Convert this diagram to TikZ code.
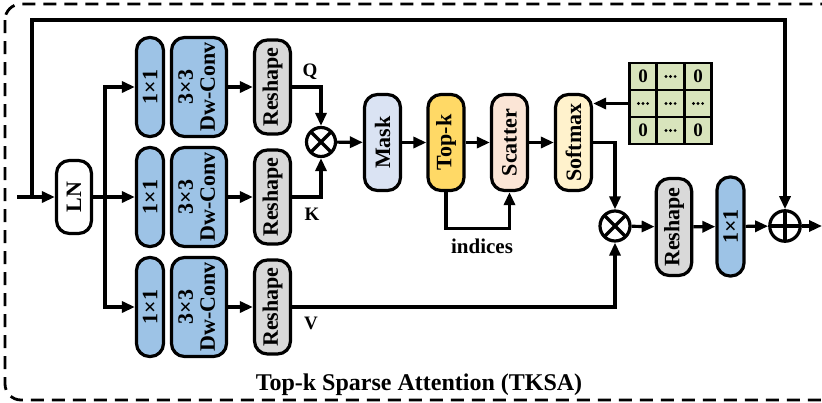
\documentclass[tikz,border=0pt]{standalone}
\usepackage{fontspec}
\setmainfont{Liberation Serif}
\usetikzlibrary{arrows.meta}
\definecolor{convblue}{HTML}{9DC3E6}
\definecolor{shapegray}{HTML}{D9D9D9}
\definecolor{maskblue}{HTML}{DAE3F3}
\definecolor{topkgold}{HTML}{FFD966}
\definecolor{scatterpeach}{HTML}{FBE5D6}
\definecolor{softyellow}{HTML}{FFF2CC}
\definecolor{zerogreen}{HTML}{D8E4BC}
\begin{document}
\begin{tikzpicture}[x=1pt,y=-1pt,
  line width=3.2pt,
  >={Triangle[length=13pt,width=11pt]},
  blk/.style={draw, rounded corners=13pt, inner sep=0pt,
    font=\fontsize{22}{24}\selectfont\bfseries},
  pill/.style={blk, fill=convblue, minimum width=27pt, minimum height=99pt},
  dwconv/.style={blk, fill=convblue, minimum width=55pt, minimum height=99pt},
  reshape/.style={blk, fill=shapegray, minimum width=36pt, minimum height=94pt},
  attn/.style={blk, minimum width=36pt, minimum height=96pt},
  op/.style={draw, circle, inner sep=0pt, minimum size=#1},
  cell/.style={draw, fill=zerogreen, line width=2.8pt, inner sep=0pt,
    minimum width=27.5pt, minimum height=27pt,
    font=\fontsize{19}{19}\selectfont\bfseries},
  lbl/.style={font=\fontsize{19}{19}\selectfont\bfseries},
]
\path[use as bounding box] (0,0) rectangle (822,402);

% outer dashed frame of the block
\begin{scope}
  \clip (0,0) rectangle (822,402);
  \draw[line width=2.8pt, dash pattern=on 13pt off 8pt, rounded corners=16pt]
    (5,4) rectangle (850,400);
\end{scope}

% layer norm
\node[blk, minimum width=35pt, minimum height=73pt] (ln) at (74,197) {\rotatebox{90}{LN}};

% Q, K, V projections
\foreach \r/\y in {q/87, k/197, v/307}{
  \node[pill] (\r1) at (150,\y) {\rotatebox{90}{1×1}};
  \node[dwconv] (\r c) at (199,\y)
    {\rotatebox{90}{\begin{tabular}{@{}c@{}}3×3\\[-2pt]Dw-Conv\end{tabular}}};
  \node[reshape] (\r r) at (272.5,\y) {\rotatebox{90}{Reshape}};
}

% attention path
\node[op=29pt] (m1) at (321,142) {};
\node[attn, fill=maskblue] (mask) at (382.5,142.5) {\rotatebox{90}{Mask}};
\node[attn, fill=topkgold] (topk) at (446,142.5) {\rotatebox{90}{Top-k}};
\node[attn, fill=scatterpeach] (scat) at (509.5,142.5) {\rotatebox{90}{Scatter}};
\node[attn, fill=softyellow] (sm) at (573.5,142.5) {\rotatebox{90}{Softmax}};

% zero matrix
\foreach \i/\y in {1/76.5, 2/103.5, 3/130.5}{
  \foreach \j/\x in {1/643, 2/670.5, 3/698}{
    \node[cell] (c\i\j) at (\x,\y) {};
  }
}
\foreach \c in {c11, c13, c31, c33}{
  \node[cell, fill=none, draw=none] at (\c) {0};
}
\foreach \c in {c12, c21, c22, c23, c32}{
  \foreach \dx in {-4.6, 0, 4.6}{
    \fill ([xshift=\dx pt]\c.center) circle (1.6pt);
  }
}

% output path
\node[op=30pt] (m2) at (615,226) {};
\node[blk, fill=shapegray, minimum width=35.5pt, minimum height=97pt] (rs2) at (674,227) {\rotatebox{90}{Reshape}};
\node[pill] (o1) at (730.5,226.5) {\rotatebox{90}{1×1}};
\node[op=30.5pt] (add) at (785,226) {};

% operator glyphs
\foreach \c/\r in {m1/14.5, m2/15}{
  \draw ([shift={(45:\r)}]\c.center) -- ([shift={(225:\r)}]\c.center);
  \draw ([shift={(135:\r)}]\c.center) -- ([shift={(315:\r)}]\c.center);
}
\draw ([shift={(0,-15.25)}]add.center) -- ([shift={(0,15.25)}]add.center);
\draw ([shift={(-15.25,0)}]add.center) -- ([shift={(15.25,0)}]add.center);

% input, skip connection and branches
\coordinate (in) at (17,197);
\coordinate (sk) at (32,197);
\coordinate (skt) at (32,20);
\coordinate (br) at (105,197);
\coordinate (out) at (822,226);
\draw[->] (in) -- (ln);
\draw[->] (sk) -- (skt) -| (add);
\draw[->] (ln) -- (k1);
\draw[->] (br) |- (q1);
\draw[->] (br) |- (v1);
\foreach \r in {q,k,v}{
  \draw[->] (\r c) -- (\r r);
}
\draw[->] (qr) -| (m1);
\draw[->] (kr) -| (m1);
\draw[->] (vr) -| (m2);

\draw[->] (m1) -- (mask);
\draw[->] (mask) -- (topk);
\draw[->] (topk) -- (scat);
\draw[->] (scat) -- (sm);
\draw[->] (topk.south) -- ++(0,36) -| (scat.south);
\draw[->] (c21.west) -- (c21.west -| sm.east);
\draw[->] (sm) -| (m2);

\draw[->] (m2) -- (rs2);
\draw[->] (rs2) -- (o1);
\draw[->] (o1) -- (add);
\draw[->] (add) -- (out);

% labels
\node[lbl] (lq) at (310,72) {Q};
\node[lbl] (lk) at (312,214) {K};
\node[lbl] (lv) at (311,323) {V};
\node[font=\fontsize{21}{21}\selectfont\bfseries] (idx) at (482,246) {indices};
\node[font=\fontsize{24}{24}\selectfont\bfseries] (title) at (419,385) {Top-k Sparse Attention (TKSA)};
\end{tikzpicture}
\end{document}
